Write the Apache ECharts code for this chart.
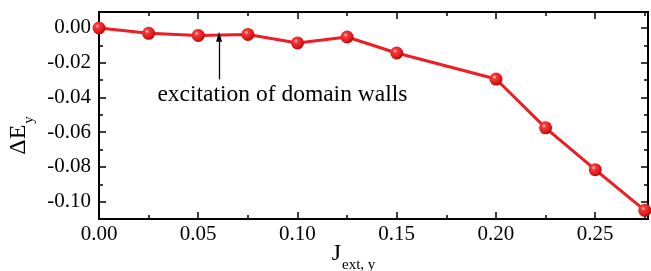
<!DOCTYPE html>
<html>
<head>
<meta charset="utf-8">
<script src="https://cdn.jsdelivr.net/npm/echarts@6/dist/echarts.min.js"></script>
<style>
html,body{margin:0;padding:0;background:#fff;}
#chart{width:651px;height:271px;}
</style>
</head>
<body>
<div id="chart"></div>
<script>
// ---- data ----
const jValues = [0.000, 0.025, 0.050, 0.075, 0.100, 0.125, 0.150, 0.200, 0.225, 0.250, 0.275];
const dEValues = [0.0000, -0.0031, -0.0043, -0.0037, -0.0086, -0.0052, -0.0144, -0.0294, -0.0575, -0.0816, -0.1050];
const xMajorTicks = [0.00, 0.05, 0.10, 0.15, 0.20, 0.25];
const xMinorTicks = [0.025, 0.075, 0.125, 0.175, 0.225, 0.275];
const yMajorTicks = [-0.10, -0.08, -0.06, -0.04, -0.02, 0.00];
const yMinorTicks = [-0.11, -0.09, -0.07, -0.05, -0.03, -0.01];
const annotationText = 'excitation of domain walls';
const annotationArrow = [[0.0605, -0.0296], [0.0605, -0.0050]];
const annotationLabelPos = [0.0924, -0.0385];

const FONT = "'Liberation Serif','Times New Roman',serif";
const xMin = 0, xMax = 0.2766, yMin = -0.11, yMax = 0.0092;
const black = '#000';

function xAxisCfg(pos, ticks, len, withLabels, withName) {
  const c = {
    type: 'value', position: pos, min: xMin, max: xMax,
    axisLine: {show: true, onZero: false, lineStyle: {color: black, width: 2}},
    axisTick: {show: true, inside: true, length: len, customValues: ticks, lineStyle: {color: black, width: 1.5}},
    axisLabel: {show: withLabels, customValues: ticks, margin: 5, color: black, fontFamily: FONT, fontSize: 21,
      formatter: v => v.toFixed(2)},
    splitLine: {show: false}
  };
  if (withName) {
    c.name = '{j|J}{s|ext, y}';
    c.nameLocation = 'middle';
    c.nameGap = 23;
    c.nameMoveOverlap = false;
    c.nameTextStyle = {
      padding: [0, 40, 0, 0],
      rich: {
        j: {fontFamily: FONT, fontSize: 24, color: black, verticalAlign: 'bottom', lineHeight: 24},
        s: {fontFamily: FONT, fontSize: 15, color: black, verticalAlign: 'bottom', lineHeight: 24, padding: [0, 0, -7, 1]}
      }
    };
  }
  return c;
}
function yAxisCfg(pos, ticks, len, withLabels, withName) {
  const c = {
    type: 'value', position: pos, min: yMin, max: yMax,
    axisLine: {show: true, onZero: false, lineStyle: {color: black, width: 2}},
    axisTick: {show: true, inside: true, length: len, customValues: ticks, lineStyle: {color: black, width: 1.5}},
    axisLabel: {show: withLabels, customValues: ticks, margin: 8, color: black, fontFamily: FONT, fontSize: 21,
      formatter: v => v.toFixed(2)},
    splitLine: {show: false}
  };
  if (withName) {
    c.name = '{d|ΔE}{s|y}';
    c.nameLocation = 'middle';
    c.nameGap = 68;
    c.nameRotate = 90;
    c.nameTextStyle = {
      padding: [0, 40, 0, 0],
      rich: {
        d: {fontFamily: FONT, fontSize: 24, color: black, verticalAlign: 'bottom', lineHeight: 24},
        s: {fontFamily: FONT, fontSize: 15, color: black, verticalAlign: 'bottom', lineHeight: 24, padding: [0, 0, -6, 1]}
      }
    };
  }
  return c;
}

const chart = echarts.init(document.getElementById('chart'), null, {renderer: 'canvas'});
chart.setOption({
  animation: false,
  backgroundColor: '#fff',
  grid: {left: 99, right: 3, top: 12, bottom: 52, containLabel: false, outerBoundsMode: 'none'},
  xAxis: [
    xAxisCfg('bottom', xMajorTicks, 7, true, true),
    xAxisCfg('bottom', xMinorTicks, 4, false, false),
    xAxisCfg('top', xMajorTicks, 7, false, false),
    xAxisCfg('top', xMinorTicks, 4, false, false)
  ],
  yAxis: [
    yAxisCfg('left', yMajorTicks, 7, true, true),
    yAxisCfg('left', yMinorTicks, 4, false, false),
    yAxisCfg('right', yMajorTicks, 7, false, false),
    yAxisCfg('right', yMinorTicks, 4, false, false)
  ],
  series: [{
    type: 'line',
    xAxisIndex: 0, yAxisIndex: 0,
    data: jValues.map((x, i) => [x, dEValues[i]]),
    lineStyle: {color: '#ee1c24', width: 3},
    symbol: 'circle',
    symbolSize: 13,
    itemStyle: {
      color: {type: 'radial', x: 0.38, y: 0.35, r: 0.65,
        colorStops: [{offset: 0, color: '#ffd0d0'}, {offset: 0.25, color: '#f43a3a'}, {offset: 0.75, color: '#e01818'}, {offset: 1, color: '#b00a0a'}]},
      borderWidth: 0
    },
    clip: false,
    markLine: {
      silent: true,
      symbol: ['none', 'triangle'],
      symbolSize: [6, 10],
      label: {show: false},
      lineStyle: {color: black, width: 1.3, type: 'solid'},
      data: [[{coord: annotationArrow[0]}, {coord: annotationArrow[1]}]]
    },
    markPoint: {
      silent: true,
      symbol: 'circle', symbolSize: 0,
      label: {show: true, formatter: annotationText, color: black, fontFamily: FONT, fontSize: 23.5, position: 'inside'},
      data: [{coord: annotationLabelPos}]
    }
  }]
});
</script>
</body>
</html>
